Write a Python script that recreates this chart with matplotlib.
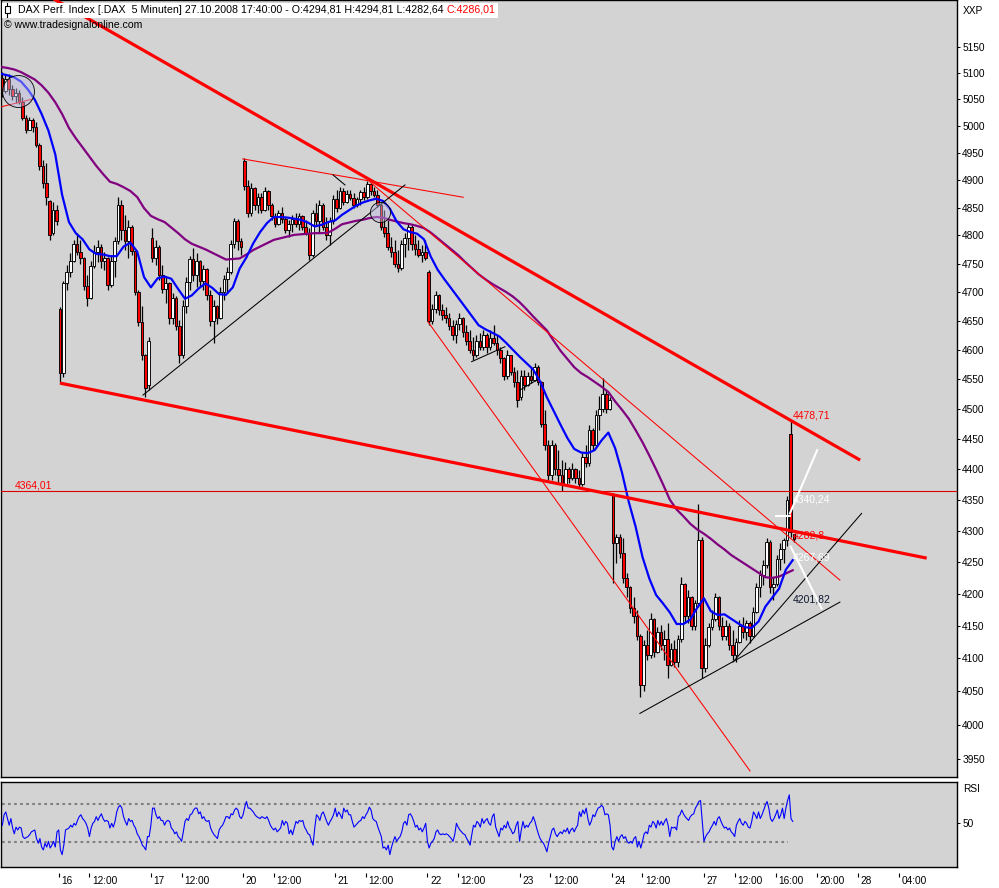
import numpy as np
import matplotlib
matplotlib.use("Agg")
import matplotlib.pyplot as plt
import matplotlib.transforms as mtransforms
from matplotlib.patches import Rectangle
from matplotlib.lines import Line2D
from matplotlib.ticker import NullLocator, NullFormatter

plt.rcParams['font.family'] = ['Liberation Sans', 'DejaVu Sans']

# bar index 0 = 16.10.2008 09:00, 108 five-minute bars per session
FIRST_BAR = -68        # 15.10.2008 12:20
BARS_PER_CANDLE = 4    # candles shown as 20-minute bars

opens = [
    5090, 5065, 5088, 5070, 5055, 5062, 5045, 5015, 4993, 5010, 4998, 4965, 4925, 4895, 4862, 4805, 4845,
    4670, 4560, 4715, 4735, 4755, 4785, 4770, 4760, 4710, 4690, 4745, 4770, 4780, 4755, 4760, 4712, 4755, 4790, 4855, 4810, 4790, 4815, 4772, 4700, 4648, 4590, 4540,
    4795, 4760, 4780, 4730, 4705, 4715, 4655, 4690, 4640, 4590, 4675, 4718, 4758, 4730, 4755, 4720, 4740, 4695, 4650, 4675, 4655, 4700, 4722, 4735, 4785, 4825, 4790,
    4935, 4890, 4840, 4885, 4855, 4870, 4845, 4880, 4855, 4835, 4820, 4840, 4830, 4810, 4820, 4830, 4820, 4835, 4815, 4805, 4765, 4840, 4825, 4855, 4815, 4800, 4825,
    4865, 4850, 4880, 4860, 4875, 4868, 4855, 4865, 4878, 4870, 4892, 4880, 4872, 4855, 4815, 4805, 4780, 4770, 4750, 4742, 4785, 4795, 4815, 4785, 4775, 4765, 4770,
    4735, 4650, 4670, 4695, 4668, 4660, 4655, 4640, 4625, 4645, 4655, 4630, 4615, 4600, 4590, 4615, 4605, 4625, 4605, 4620, 4612, 4600, 4585, 4555, 4590, 4562, 4545,
    4520, 4555, 4540, 4555, 4548, 4570, 4545, 4475, 4440, 4390, 4440, 4400, 4390, 4375, 4400, 4385, 4400, 4385, 4375, 4420, 4410, 4465, 4440, 4490, 4500, 4525, 4500,
    4358, 4280, 4290, 4265, 4225, 4210, 4178, 4165, 4135, 4060, 4120, 4105, 4160, 4110, 4140, 4120, 4130, 4090, 4115, 4095, 4130, 4215, 4165, 4195, 4150, 4185, 4285,
    4085, 4120, 4148, 4160, 4195, 4150, 4135, 4150, 4120, 4105, 4125, 4150, 4140, 4155, 4135, 4172, 4210, 4230, 4245, 4282, 4210, 4215, 4255, 4270, 4285, 4458, 4294.81,
]
highs = [
    5101, 5096, 5097, 5077, 5071, 5067, 5054, 5020, 5017, 5015, 5007, 4968, 4937, 4932, 4864, 4860, 4855,
    4673, 4720, 4747, 4768, 4791, 4804, 4791, 4762, 4729, 4755, 4782, 4791, 4784, 4770, 4762, 4764, 4797, 4869, 4864, 4836, 4827, 4818, 4774, 4703, 4676, 4592, 4621,
    4814, 4791, 4782, 4747, 4726, 4718, 4698, 4692, 4651, 4686, 4726, 4764, 4778, 4768, 4757, 4747, 4742, 4703, 4686, 4677, 4708, 4729, 4743, 4791, 4832, 4830, 4795,
    4940, 4900, 4894, 4887, 4876, 4876, 4887, 4882, 4858, 4840, 4846, 4851, 4833, 4827, 4836, 4840, 4840, 4837, 4827, 4814, 4846, 4858, 4864, 4858, 4833, 4833, 4873,
    4881, 4887, 4885, 4881, 4881, 4876, 4869, 4881, 4887, 4898, 4894, 4887, 4881, 4858, 4846, 4827, 4797, 4791, 4774, 4791, 4804, 4823, 4818, 4800, 4791, 4782, 4791,
    4738, 4679, 4701, 4697, 4679, 4673, 4663, 4651, 4651, 4663, 4657, 4642, 4634, 4621, 4625, 4628, 4634, 4628, 4634, 4642, 4625, 4604, 4588, 4599, 4591, 4570, 4565,
    4565, 4565, 4561, 4568, 4577, 4573, 4547, 4498, 4448, 4448, 4442, 4431, 4414, 4411, 4403, 4409, 4402, 4398, 4426, 4439, 4472, 4467, 4498, 4522, 4551, 4531, 4519,
    4360, 4295, 4295, 4289, 4233, 4212, 4195, 4175, 4138, 4128, 4143, 4170, 4162, 4148, 4151, 4143, 4154, 4123, 4128, 4136, 4226, 4217, 4206, 4197, 4190, 4343, 4290,
    4132, 4154, 4175, 4201, 4197, 4164, 4159, 4154, 4143, 4132, 4159, 4164, 4159, 4157, 4179, 4217, 4237, 4253, 4289, 4285, 4226, 4261, 4280, 4289, 4356, 4478.71, 4294.81,
]
lows = [
    5054, 5062, 5058, 5049, 5043, 5040, 5011, 4987, 4993, 4989, 4960, 4919, 4886, 4855, 4792, 4800, 4818,
    4543, 4553, 4703, 4726, 4752, 4765, 4750, 4703, 4676, 4688, 4742, 4752, 4742, 4738, 4703, 4708, 4726, 4785, 4792, 4774, 4760, 4765, 4695, 4640, 4582, 4520, 4532,
    4752, 4747, 4721, 4698, 4681, 4645, 4645, 4634, 4577, 4585, 4663, 4703, 4720, 4708, 4708, 4703, 4685, 4640, 4611, 4645, 4653, 4685, 4698, 4732, 4778, 4774, 4765,
    4882, 4833, 4835, 4846, 4840, 4840, 4843, 4846, 4827, 4815, 4818, 4822, 4804, 4797, 4806, 4815, 4809, 4809, 4800, 4756, 4762, 4818, 4804, 4809, 4791, 4782, 4820,
    4842, 4848, 4855, 4858, 4864, 4849, 4851, 4855, 4864, 4866, 4873, 4869, 4851, 4809, 4797, 4774, 4761, 4743, 4735, 4738, 4761, 4774, 4774, 4765, 4761, 4752, 4756,
    4643, 4645, 4663, 4659, 4651, 4646, 4634, 4616, 4611, 4634, 4622, 4608, 4595, 4583, 4588, 4600, 4600, 4595, 4600, 4608, 4591, 4578, 4548, 4550, 4557, 4536, 4503,
    4515, 4531, 4538, 4543, 4546, 4540, 4469, 4431, 4382, 4382, 4390, 4377, 4364, 4373, 4377, 4382, 4377, 4370, 4372, 4403, 4405, 4431, 4438, 4464, 4495, 4493, 4497,
    4217, 4248, 4257, 4217, 4195, 4170, 4154, 4128, 4041, 4050, 4097, 4100, 4102, 4108, 4113, 4097, 4071, 4088, 4087, 4087, 4125, 4154, 4154, 4143, 4143, 4180, 4071,
    4080, 4118, 4143, 4158, 4143, 4128, 4128, 4113, 4097, 4095, 4123, 4132, 4128, 4123, 4133, 4170, 4195, 4214, 4240, 4201, 4190, 4212, 4237, 4248, 4276, 4290, 4282.64,
]
closes = [
    5065, 5088, 5070, 5055, 5062, 5045, 5015, 4993, 5010, 4998, 4965, 4925, 4895, 4870, 4800, 4845, 4825,
    4560, 4715, 4735, 4755, 4785, 4770, 4760, 4710, 4690, 4745, 4770, 4780, 4755, 4760, 4712, 4755, 4790, 4855, 4810, 4790, 4815, 4772, 4700, 4648, 4590, 4535, 4615,
    4760, 4780, 4730, 4705, 4715, 4655, 4690, 4640, 4590, 4675, 4718, 4758, 4730, 4755, 4720, 4740, 4695, 4650, 4675, 4655, 4700, 4722, 4735, 4785, 4825, 4790, 4780,
    4890, 4840, 4885, 4855, 4870, 4845, 4880, 4855, 4835, 4820, 4840, 4830, 4810, 4820, 4830, 4820, 4835, 4815, 4805, 4765, 4840, 4825, 4855, 4815, 4800, 4825, 4865,
    4850, 4880, 4860, 4875, 4868, 4855, 4865, 4878, 4870, 4892, 4880, 4872, 4855, 4815, 4805, 4780, 4770, 4750, 4742, 4785, 4795, 4815, 4785, 4775, 4765, 4770, 4760,
    4650, 4670, 4695, 4668, 4660, 4655, 4640, 4625, 4645, 4655, 4630, 4615, 4600, 4590, 4615, 4605, 4625, 4605, 4620, 4612, 4600, 4585, 4555, 4590, 4562, 4545, 4515,
    4555, 4540, 4555, 4548, 4570, 4545, 4475, 4440, 4390, 4440, 4400, 4390, 4375, 4400, 4385, 4400, 4385, 4375, 4420, 4410, 4465, 4440, 4490, 4500, 4525, 4500, 4515,
    4280, 4290, 4265, 4225, 4210, 4178, 4165, 4135, 4060, 4120, 4105, 4160, 4110, 4140, 4120, 4130, 4090, 4115, 4095, 4130, 4215, 4165, 4195, 4150, 4185, 4285, 4085,
    4120, 4148, 4160, 4195, 4150, 4135, 4150, 4120, 4105, 4125, 4150, 4140, 4155, 4135, 4172, 4210, 4230, 4245, 4282, 4210, 4215, 4255, 4270, 4285, 4350, 4298, 4286.01,
]

# moving averages, one value every 8 bars starting at FIRST_BAR
MA_STEP = 8
ma_blue = [
    5098, 5095, 5091, 5083, 5068, 5049, 5022, 4991, 4947, 4873,
    4824, 4804, 4793, 4775, 4767, 4766, 4763, 4763, 4780, 4787,
    4771, 4726, 4708, 4724, 4727, 4723, 4705, 4688, 4694, 4706,
    4715, 4707, 4696, 4695, 4708, 4741, 4761, 4786, 4806, 4822,
    4833, 4833, 4832, 4830, 4828, 4823, 4816, 4819, 4824, 4827,
    4837, 4845, 4853, 4859, 4863, 4866, 4862, 4848, 4825, 4811,
    4806, 4803, 4793, 4762, 4739, 4722, 4706, 4690, 4674, 4658,
    4642, 4635, 4629, 4623, 4612, 4600, 4588, 4577, 4566, 4546,
    4519, 4496, 4473, 4451, 4433, 4427, 4426, 4431, 4447, 4460,
    4434, 4394, 4346, 4306, 4258, 4224, 4198, 4185, 4171, 4153,
    4153, 4160, 4178, 4193, 4173, 4167, 4168, 4161, 4154, 4148,
    4147, 4157, 4180, 4194, 4208, 4238, 4253,
]
ma_purple = [
    5111, 5109, 5106, 5101, 5094, 5087, 5076, 5062, 5044, 5022,
    4996, 4977, 4960, 4943, 4926, 4911, 4897, 4893, 4887, 4880,
    4869, 4849, 4835, 4829, 4824, 4814, 4804, 4793, 4785, 4780,
    4775, 4769, 4763, 4757, 4758, 4759, 4766, 4774, 4780, 4786,
    4792, 4795, 4798, 4801, 4802, 4803, 4804, 4804, 4805, 4812,
    4820, 4823, 4826, 4828, 4831, 4833, 4832, 4828, 4825, 4822,
    4820, 4817, 4813, 4805, 4795, 4785, 4775, 4765, 4753, 4742,
    4731, 4722, 4714, 4707, 4700, 4692, 4682, 4670, 4657, 4645,
    4633, 4615, 4598, 4584, 4570, 4560, 4553, 4545, 4537, 4528,
    4512, 4498, 4483, 4464, 4444, 4422, 4399, 4375, 4350, 4334,
    4323, 4311, 4302, 4295, 4287, 4278, 4270, 4261, 4254, 4247,
    4240, 4233, 4226, 4225, 4227, 4232, 4237,
]

# RSI, one value every 2 bars starting at bar -66
RSI_FIRST, RSI_STEP = -66, 2
rsi = [
    48, 59, 62, 55, 48, 55, 45, 39, 46, 43, 46, 45, 36, 34, 35, 36, 38, 41, 42, 43,
    34, 29, 34, 25, 22, 29, 25, 31, 24, 27, 31, 25, 41, 43, 22, 17, 27, 43, 44, 45,
    48, 46, 50, 48, 53, 57, 59, 55, 53, 50, 45, 36, 45, 50, 52, 57, 53, 57, 60,
    55, 52, 53, 52, 45, 50, 46, 52, 62, 67, 69, 66, 57, 52, 48, 55, 52, 53, 48, 45,
    39, 36, 32, 27, 25, 22, 36, 36, 48, 66, 66, 59, 55, 57, 53, 53, 48, 52, 53, 52,
    45, 43, 39, 41, 36, 34, 31, 41, 52, 55, 53, 59, 60, 64, 66, 66, 60, 62, 55,
    57, 53, 52, 53, 45, 41, 38, 36, 34, 43, 46, 48, 52, 57, 57, 55, 60, 59, 64, 66,
    64, 57, 55, 59, 67, 73, 66, 66, 64, 62, 59, 57, 56, 55, 57, 56, 55, 57,
    53, 48, 45, 43, 45, 41, 43, 45, 53, 48, 52, 50, 39, 43, 38, 45, 52, 50, 53, 52,
    53, 46, 43, 39, 38, 32, 27, 45, 59, 57, 53, 60, 62, 57, 52, 48, 52, 55, 59,
    66, 57, 62, 59, 55, 66, 62, 64, 59, 59, 52, 46, 48, 50, 52, 53, 57, 55, 59, 62,
    67, 64, 55, 53, 52, 46, 41, 36, 24, 25, 22, 27, 17, 25, 31, 36, 31, 34, 36,
    41, 50, 52, 48, 59, 60, 57, 52, 46, 48, 43, 45, 41, 45, 50, 31, 24, 29, 31, 34,
    41, 43, 39, 38, 39, 38, 39, 38, 36, 34, 31, 38, 50, 46, 43, 41, 39, 38,
    34, 31, 27, 38, 48, 46, 52, 50, 46, 55, 50, 53, 55, 50, 48, 57, 60, 46, 41, 36,
    45, 43, 48, 45, 52, 46, 43, 39, 41, 48, 52, 31, 43, 52, 45, 48, 46, 50, 52, 57,
    52, 45, 39, 34, 31, 29, 25, 20, 29, 36, 43, 45, 39, 36, 39, 41, 39, 43, 41,
    45, 39, 43, 45, 41, 45, 48, 62, 57, 64, 60, 66, 55, 48, 52, 59, 57, 62, 66, 67,
    69, 67, 59, 60, 59, 48, 25, 22, 31, 36, 31, 36, 38, 34, 36, 31, 29, 31, 29, 34,
    36, 25, 31, 24, 31, 39, 41, 39, 48, 46, 52, 50, 45, 53, 48, 52, 48, 52, 55,
    48, 36, 46, 45, 46, 43, 57, 59, 64, 60, 57, 55, 53, 57, 59, 60, 66, 69, 73,
    74, 53, 31, 36, 39, 41, 45, 48, 52, 48, 55, 57, 52, 48, 45, 46, 43, 45, 41, 39,
    36, 48, 52, 55, 50, 48, 52, 50, 46, 45, 52, 62, 59, 55, 62, 55, 59, 64, 69, 73,
    66, 55, 52, 55, 59, 64, 55, 59, 66, 55, 66, 74, 80, 55, 52,
]

# drawing tools: (bar, price) anchor pairs
thick_red_lines = [((-16, 5251.7), (939, 4414.5)), ((1.5, 4543), (1017, 4256.2))]
thin_red_lines = [((215.6, 4938.8), (474, 4868.7)), ((364.7, 4896.5), (915.3, 4221.5)),
                  ((432.6, 4648.1), (810, 3931.7)), ((-66.8, 5035.8), (-31.6, 5049.6))]
black_lines = [((98.8, 4522.8), (405.7, 4891.1)), ((321.4, 4909.4), (335.4, 4891.1)),
               ((483.8, 4579.4), (522.9, 4605.0)), ((540.4, 4531.3), (560, 4548.1)),
               ((680.9, 4016.9), (915.3, 4187.0)), ((790, 4094.4), (940.7, 4327.7))]
white_lines = [((840.9, 4323.4), (856.5, 4323.4)), ((856.7, 4327.7), (888.7, 4431.0)),
               ((857.6, 4274.2), (893.9, 4177.2))]
circles = [((-47.3, 5065.3), 23), ((376.4, 4842.0), 14.5)]
hline_price = 4364.01
level_texts = ['4478,71', '4340,24', '4282,8', '4267,69', '4201,82']
level_prices = [4488, 4350.3, 4292.8, 4257.8, 4191.6]
level_colors = ['#FF0000', 'white', '#FF0000', 'white', '#101830']
LEVEL_BAR = 860.2

price_ticks = list(range(3950, 5151, 50))
time_ticks = [0, 36, 108, 144, 216, 252, 324, 360, 432, 468, 540, 576, 648, 684, 756, 792, 840, 888, 936, 984]
time_labels = ['16', '12:00', '17', '12:00', '20', '12:00', '21', '12:00', '22', '12:00',
               '23', '12:00', '24', '12:00', '27', '12:00', '16:00', '20:00', '28', '04:00']

W, H = 999, 888
BG = '#D3D3D3'
FS = 7.3


def box(x0, y0, x1, y1):
    return [x0 / W, 1 - y1 / H, (x1 - x0) / W, (y1 - y0) / H]


fig = plt.figure(figsize=(W / 100, H / 100), dpi=100, facecolor='white')
ax = fig.add_axes(box(1, 0, 957, 777))
ax_rsi = fig.add_axes(box(1, 782, 957, 867))
XLIM = (-67.6, 1052.5)

for a in (ax, ax_rsi):
    a.set_facecolor(BG)
    a.set_xlim(*XLIM)
    a.set_xticks([])
    for s in a.spines.values():
        s.set_color('black')
        s.set_linewidth(1.0)
    a.yaxis.tick_right()
    a.tick_params(axis='y', which='major', direction='out', length=2.2, width=0.7,
                  pad=1.6, labelsize=FS, colors='black')

# main price panel
ax.set_yscale('log')
ax.set_ylim(3922.9, 5240.0)
ax.yaxis.set_minor_locator(NullLocator())
ax.yaxis.set_minor_formatter(NullFormatter())
ax.set_yticks(price_ticks)
ax.set_yticklabels([str(p) for p in price_ticks])

o, hi, lo, c = (np.array(v, dtype=float) for v in (opens, highs, lows, closes))
xc = FIRST_BAR + BARS_PER_CANDLE * np.arange(len(o)) + (BARS_PER_CANDLE - 1) / 2
ax.vlines(xc, lo, hi, color='black', lw=0.9, zorder=2)
ax.bar(xc, np.maximum(np.abs(c - o), 1.2), bottom=np.minimum(o, c), width=3.1,
       color=np.where(c >= o, 'white', '#FF0000'), edgecolor='black', linewidth=0.65, zorder=3)

x_ma = FIRST_BAR + MA_STEP * np.arange(len(ma_blue))
ax.plot(x_ma, ma_purple, color='#800080', lw=1.6, zorder=4)
ax.plot(x_ma, ma_blue, color='#0000FF', lw=1.6, zorder=4)

ax.axhline(hline_price, color='#DD0000', lw=0.8, zorder=4)
for (x0, y0), (x1, y1) in thick_red_lines:
    ax.plot([x0, x1], [y0, y1], color='#FF0000', lw=2.3, zorder=5, solid_capstyle='butt')
for (x0, y0), (x1, y1) in thin_red_lines:
    ax.plot([x0, x1], [y0, y1], color='#FF0000', lw=0.75, zorder=5)
for (x0, y0), (x1, y1) in black_lines:
    ax.plot([x0, x1], [y0, y1], color='black', lw=0.75, zorder=5)
for (x0, y0), (x1, y1) in white_lines:
    ax.plot([x0, x1], [y0, y1], color='white', lw=1.5, zorder=5)
for (cx, cy), size in circles:
    ax.plot([cx], [cy], marker='o', ms=size, mfc=(0.74, 0.74, 0.9, 0.45),
            mec='black', mew=0.6, ls='none', zorder=6)

for txt, p, col in zip(level_texts, level_prices, level_colors):
    ax.text(LEVEL_BAR, p, txt, color=col, fontsize=FS + 0.2, va='center', ha='left', zorder=7)
ax.text(-51.2, 4373.6, '4364,01', color='#FF0000', fontsize=FS + 0.2, va='center', ha='left', zorder=7)

# RSI panel
ax_rsi.set_ylim(4, 93.5)
ax_rsi.set_yticks([50])
ax_rsi.set_yticklabels(['50'])
x_rsi = RSI_FIRST + RSI_STEP * np.arange(len(rsi))
for lvl in (70, 30):
    ax_rsi.plot([x_rsi[0], x_rsi[-1] - 6], [lvl, lvl], color='#808080', lw=1.5,
                dashes=(1.3, 1.6), zorder=2)
ax_rsi.plot(x_rsi, rsi, color='#0000FF', lw=0.8, zorder=3)

# time axis under the RSI panel
trans = mtransforms.blended_transform_factory(ax_rsi.transData, fig.transFigure)
ax_rsi.vlines(time_ticks, 1 - 876.7 / H, 1 - 872.5 / H, transform=trans,
              color='black', lw=0.8, clip_on=False)
lab_trans = trans + mtransforms.ScaledTranslation(2.6 / 100, 0, fig.dpi_scale_trans)
for t, lab in zip(time_ticks, time_labels):
    ax_rsi.text(t, 1 - 880.5 / H, lab, transform=lab_trans, fontsize=FS,
                va='center', ha='left', clip_on=False)

# header
fig.add_artist(Rectangle((2 / W, 1 - 18 / H), 496 / W, 15 / H, transform=fig.transFigure,
                         facecolor='white', edgecolor='none', zorder=1))
fig.add_artist(Line2D([7 / W, 7 / W], [1 - 17 / H, 1 - 3 / H], transform=fig.transFigure,
                      color='black', lw=0.8, zorder=2))
fig.add_artist(Rectangle((4.5 / W, 1 - 13.5 / H), 5 / W, 7 / H, transform=fig.transFigure,
                         facecolor='white', edgecolor='black', lw=0.8, zorder=2))
t1 = fig.text(18 / W, 1 - 10 / H,
              'DAX Perf. Index [.DAX  5 Minuten] 27.10.2008 17:40:00 - O:4294,81 H:4294,81 L:4282,64',
              fontsize=7.7, va='center', ha='left')
fig.canvas.draw()
bb = t1.get_window_extent(fig.canvas.get_renderer())
fig.text((bb.x1 + 3) / W, 1 - 10 / H, 'C:4286,01', fontsize=7.7, va='center', ha='left', color='#FF0000')
fig.text(4 / W, 1 - 25 / H, '\u00a9 www.tradesignalonline.com', fontsize=7.6, va='center', ha='left')
fig.text(963 / W, 1 - 11 / H, 'XXP', fontsize=FS, va='center', ha='left')
fig.text(963 / W, 1 - 789 / H, 'RSI', fontsize=FS, va='center', ha='left')

fig.savefig('out.png', dpi=100, facecolor='white')
